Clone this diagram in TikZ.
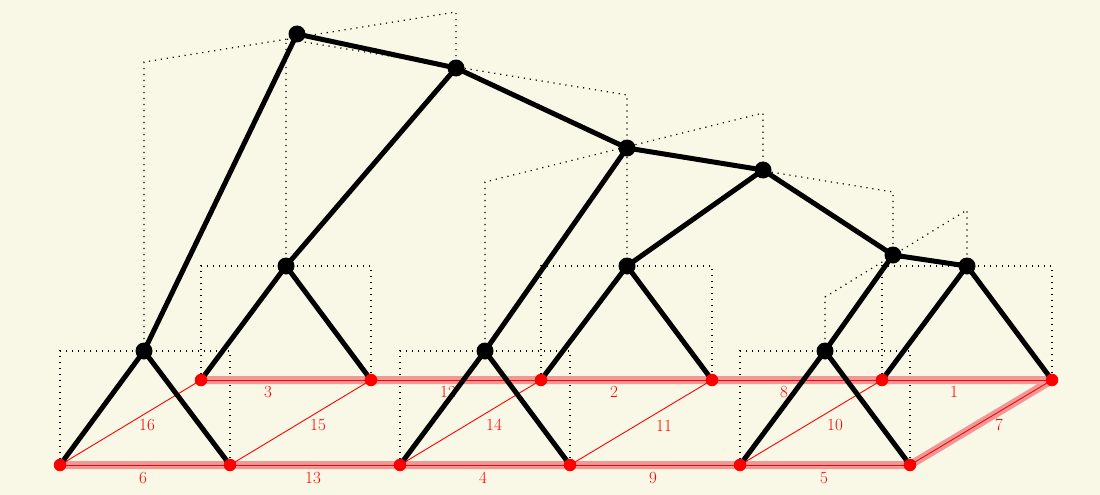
\documentclass[tikz,border=0pt]{standalone}
\definecolor{bgc}{RGB}{249,248,231}
\definecolor{pinkhl}{RGB}{240,152,150}
\begin{document}
\begin{tikzpicture}[x=1pt,y=-1pt,
  frame/.style={line width=1.2pt, dash pattern=on 1.2pt off 4.8pt, black},
  hl/.style={line width=8pt, pinkhl, line join=round},
  redge/.style={red, line width=0.9pt},
  tedge/.style={line width=5pt, black},
  bdot/.style={circle, fill=black, inner sep=0pt, minimum size=17pt},
  rdot/.style={circle, fill=red, inner sep=0pt, minimum size=12.5pt},
  lab/.style={text=red, font=\fontsize{17}{17}\selectfont, inner sep=0pt}]
\fill[bgc] (0,0) rectangle (1100,495);
\useasboundingbox (0,0) rectangle (1100,495);
% leaves
\coordinate (f0) at (60,465);
\coordinate (f1) at (230,465);
\coordinate (f2) at (400,465);
\coordinate (f3) at (570,465);
\coordinate (f4) at (740,465);
\coordinate (f5) at (910,465);
\coordinate (b0) at (201,380);
\coordinate (b1) at (371,380);
\coordinate (b2) at (541,380);
\coordinate (b3) at (712,380);
\coordinate (b4) at (882,380);
\coordinate (b5) at (1052,380);
% internal nodes
\coordinate (A) at (144,351);
\coordinate (B) at (286,266);
\coordinate (C) at (485,351);
\coordinate (D) at (627,266);
\coordinate (E) at (825,351);
\coordinate (F) at (967,266);
\coordinate (G) at (893,255);
\coordinate (H) at (763,170);
\coordinate (I) at (627,148);
\coordinate (J) at (456,68);
\coordinate (K) at (297,34);
% frame corners
\coordinate (A1) at (60,351);  \coordinate (A2) at (230,351);
\coordinate (B1) at (201,266); \coordinate (B2) at (371,266);
\coordinate (C1) at (400,351); \coordinate (C2) at (570,351);
\coordinate (D1) at (541,266); \coordinate (D2) at (712,266);
\coordinate (E1) at (740,351); \coordinate (E2) at (910,351);
\coordinate (F1) at (882,266); \coordinate (F2) at (1052,266);
\coordinate (G1) at (825,297); \coordinate (G2) at (967,210);
\coordinate (H1) at (627,148.5); \coordinate (H2) at (893,192);
\coordinate (I1) at (485,182); \coordinate (I2) at (763,113);
\coordinate (J1) at (286,39);  \coordinate (J2) at (627,95);
\coordinate (K1) at (144,62);  \coordinate (K2) at (456,12);
% dotted frames
\draw[frame] (f0) -- (A1) -- (A2) -- (f1);
\draw[frame] (b0) -- (B1) -- (B2) -- (b1);
\draw[frame] (f2) -- (C1) -- (C2) -- (f3);
\draw[frame] (b2) -- (D1) -- (D2) -- (b3);
\draw[frame] (f4) -- (E1) -- (E2) -- (f5);
\draw[frame] (b4) -- (F1) -- (F2) -- (b5);
\draw[frame] (E) -- (G1) -- (G2) -- (F);
\draw[frame] (D) -- (H1) -- (H2) -- (G);
\draw[frame] (C) -- (I1) -- (I2) -- (H);
\draw[frame] (B) -- (J1) -- (J2) -- (I);
\draw[frame] (A) -- (K1) -- (K2) -- (J);
% highlighted path
\draw[hl] (f0) -- (f5) -- (b5) -- (b0);
% red edges with labels
\draw[redge] (f0) -- node[lab, xshift=-2pt, yshift=-13pt]{6} (f1);
\draw[redge] (f1) -- node[lab, xshift=-2pt, yshift=-13pt]{13} (f2);
\draw[redge] (f2) -- node[lab, xshift=-2pt, yshift=-13pt]{4} (f3);
\draw[redge] (f3) -- node[lab, xshift=-2pt, yshift=-13pt]{9} (f4);
\draw[redge] (f4) -- node[lab, xshift=-1pt, yshift=-13pt]{5} (f5);
\draw[redge] (b0) -- node[lab, xshift=-18pt, yshift=-12pt]{3} (b1);
\draw[redge] (b1) -- node[lab, xshift=-8pt, yshift=-12pt]{12} (b2);
\draw[redge] (b2) -- node[lab, xshift=-12.5pt, yshift=-12pt]{2} (b3);
\draw[redge] (b3) -- node[lab, xshift=-13pt, yshift=-12pt]{8} (b4);
\draw[redge] (b4) -- node[lab, xshift=-13pt, yshift=-12pt]{1} (b5);
\draw[redge] (f0) -- node[lab, xshift=16.5pt, yshift=-2.5pt]{16} (b0);
\draw[redge] (f1) -- node[lab, xshift=17.5pt, yshift=-3pt]{15} (b1);
\draw[redge] (f2) -- node[lab, xshift=23.5pt, yshift=-2.5pt]{14} (b2);
\draw[redge] (f3) -- node[lab, xshift=23pt, yshift=-3pt]{11} (b3);
\draw[redge] (f4) -- node[lab, xshift=24pt, yshift=-2.5pt]{10} (b4);
\draw[redge] (f5) -- node[lab, xshift=18pt, yshift=-2.5pt]{7} (b5);
% tree edges
\draw[tedge] (A) -- (f0); \draw[tedge] (A) -- (f1);
\draw[tedge] (B) -- (b0); \draw[tedge] (B) -- (b1);
\draw[tedge] (C) -- (f2); \draw[tedge] (C) -- (f3);
\draw[tedge] (D) -- (b2); \draw[tedge] (D) -- (b3);
\draw[tedge] (E) -- (f4); \draw[tedge] (E) -- (f5);
\draw[tedge] (F) -- (b4); \draw[tedge] (F) -- (b5);
\draw[tedge] (G) -- (E); \draw[tedge] (G) -- (F);
\draw[tedge] (H) -- (D); \draw[tedge] (H) -- (G);
\draw[tedge] (I) -- (C); \draw[tedge] (I) -- (H);
\draw[tedge] (J) -- (B); \draw[tedge] (J) -- (I);
\draw[tedge] (K) -- (A); \draw[tedge] (K) -- (J);
% dots
\foreach \n in {A,B,C,D,E,F,G,H,I,J,K} \node[bdot] (d\n) at (\n) {};
\foreach \n in {f0,f1,f2,f3,f4,f5,b0,b1,b2,b3,b4,b5} \node[rdot] (d\n) at (\n) {};
\end{tikzpicture}
\end{document}
